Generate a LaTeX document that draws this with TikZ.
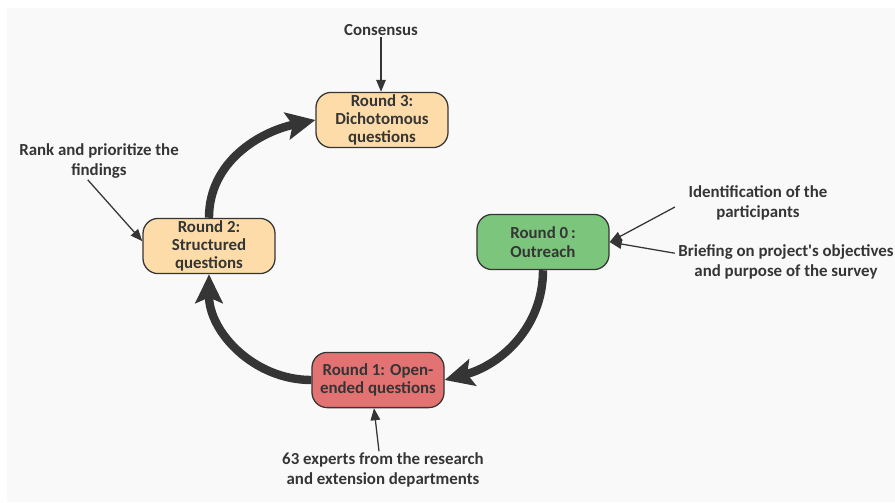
\documentclass[tikz,border=0pt]{standalone}
\usepackage{fontspec}
\setmainfont{Carlito}
\usetikzlibrary{arrows.meta}

\definecolor{bgGray}{HTML}{F9F9F9}
\definecolor{inkGray}{HTML}{353535}
\definecolor{roundOrange}{HTML}{FDDCA9}
\definecolor{roundGreen}{HTML}{7CC57D}
\definecolor{roundRed}{HTML}{E37272}

\tikzset{
  roundbox/.style={draw=inkGray, line width=0.9pt, rounded corners=0.38cm,
    minimum width=3.3cm, minimum height=1.38cm, inner sep=1pt, align=center,
    text=inkGray, font=\fontsize{12}{13}\selectfont\bfseries},
  remark/.style={align=center, text=inkGray, inner sep=1pt,
    font=\fontsize{12}{14}\selectfont\bfseries},
  flow/.style={draw=inkGray, line width=0.21cm,
    -{Stealth[length=0.72cm,width=0.68cm,inset=0.14cm]}},
  pointer/.style={draw=inkGray, line width=0.9pt,
    -{Triangle[length=0.3cm,width=0.24cm]}}
}

\begin{document}
\begin{tikzpicture}[x=0.025cm,y=-0.025cm]
  \useasboundingbox (0,0) rectangle (895,502);
  \filldraw[fill=bgGray, draw=none] (7,8) rectangle (895,502);

  \node[roundbox, fill=roundGreen] (r0) at (543,242) {Round 0\,:\\Outreach};
  \node[roundbox, fill=roundRed] (r1) at (378,380) {Round 1: Open-\\ended questions};
  \node[roundbox, fill=roundOrange] (r2) at (209,246) {Round 2:\\Structured\\questions};
  \node[roundbox, fill=roundOrange] (r3) at (382,120) {Round 3:\\Dichotomous\\questions};

  \draw[flow] (r0.south) to[out=-90, in=15] (r1.east);
  \draw[flow] (r1.west) to[out=180, in=-90] (r2.south);
  \draw[flow] (r2.north) to[out=90, in=192] (r3.west);

  \node[remark] (cons) at (381,30) {Consensus};
  \node[remark] (rank) at (99,161) {Rank and prioritize the\\findings};
  \node[remark] (ident) at (758,203) {Identification of the\\participants};
  \node[remark] (brief) at (786,262) {Briefing on project\textquotesingle s objectives\\and purpose of the survey};
  \node[remark] (expert) at (383,470) {63 experts from the research\\and extension departments};

  \draw[pointer] (cons.south) -- (cons.south |- r3.north);
  \draw[pointer] ([xshift=-0.28cm]rank.south) -- ([yshift=0.12cm]r2.west);
  \draw[pointer] ([xshift=-0.3cm,yshift=-0.1cm]ident.west) -- (r0.east);
  \draw[pointer] ([xshift=-0.05cm,yshift=0.22cm]brief.west) -- (r0.east);
  \draw[pointer] ([xshift=-0.1cm]expert.north) -- ([xshift=-0.1cm]r1.south);
\end{tikzpicture}
\end{document}
